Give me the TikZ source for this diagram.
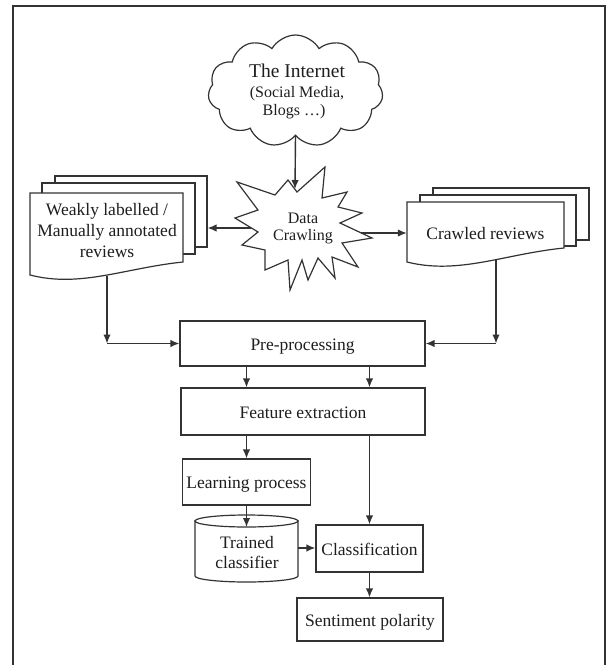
\documentclass[tikz,border=0pt]{standalone}
\usepackage{fontspec}
\setmainfont{Liberation Serif}
\usetikzlibrary{shapes.symbols,arrows.meta,calc}
\definecolor{ln}{HTML}{333333}
\definecolor{tx}{HTML}{1E1E1E}
\tikzset{
  base/.style={font=\fontsize{17.5}{21}\selectfont, text=tx, inner sep=0pt},
  box/.style={base, draw=ln, line width=1.2pt, fill=white, align=center,
              text height=17pt, text depth=4pt},
  arr/.style={draw=ln, line width=1.4pt, -{Latex[length=9pt,width=7.5pt]}},
  shapeline/.style={draw=ln, line width=1.2pt, fill=white},
  sheet/.style={shapeline, rectangle, inner sep=0pt},
}
\newcommand{\docshape}[5]{%
  \path[shapeline] (#1,#2) -- (#3,#2) -- (#3,#4)
    .. controls ({#1+0.62*(#3-#1)},{#4+6}) and ({#1+0.33*(#3-#1)},{#5+13}) .. (#1,#5) -- cycle;}
\begin{document}
\begin{tikzpicture}[x=1pt,y=-1pt]
\useasboundingbox (0,0) rectangle (607,665);
% frame
\draw[draw=ln, line width=2pt] (13,665) -- (13,6) -- (605,6) -- (605,665);

% cloud
\node[cloud, cloud puffs=11, cloud puff arc=120, aspect=1.6, shapeline,
      minimum width=175pt, minimum height=112pt, inner sep=0pt] (net) at (295.5,91) {};
\node[base, font=\fontsize{19.5}{22}\selectfont, anchor=base] (net1) at (297,77) {The Internet};
\node[base, font=\fontsize{16}{19}\selectfont, anchor=base] (net2) at (297,97) {(Social Media,};
\node[base, font=\fontsize{16}{19}\selectfont, anchor=base] (net3) at (294,115) {Blogs …)};

% star
\path[shapeline] (237,182) -- (275,195) -- (288,180) -- (297,192) -- (325,167) -- (322,198)
  -- (347,192) -- (338,207) -- (362,213) -- (340,223) -- (372,238) -- (342,243)
  -- (358,267) -- (332,257) -- (335,278) -- (318,258) -- (308,280) -- (302,260)
  -- (290,290) -- (288,260) -- (265,270) -- (265,250) -- (242,245) -- (258,232)
  -- (235,218) -- (258,210) -- cycle;
\node[base, font=\fontsize{16}{17}\selectfont, align=center] (crawl) at (303,228) {Data\\Crawling};
\coordinate (starT) at (295,189);
\coordinate (starL) at (251,228);
\coordinate (starR) at (361,233);

% left document stack
\node[sheet, minimum width=152pt, minimum height=71pt] (wl3) at (131,211.5) {};
\node[sheet, minimum width=153pt, minimum height=71pt] (wl2) at (118.5,218.5) {};
\docshape{30}{193}{183}{262}{275}
\node[base, align=center] (wl) at (107,231) {Weakly labelled /\\Manually annotated\\reviews};
\coordinate (wlbot) at (107,275.5);

% right document stack
\node[sheet, minimum width=156pt, minimum height=52pt] (cr3) at (511,214) {};
\node[sheet, minimum width=156pt, minimum height=51pt] (cr2) at (498,220.5) {};
\docshape{407}{202}{564}{248}{262}
\node[base, text height=17pt, text depth=4pt, minimum width=157pt] (crf) at (485.5,232.5) {Crawled reviews};
\coordinate (crbot) at (496,259);

% boxes
\node[box, minimum width=245pt, minimum height=45pt] (pre) at (302.5,343.5) {Pre-processing};
\node[box, minimum width=244pt, minimum height=47pt] (feat) at (303,411.5) {Feature extraction};
\node[box, minimum width=128pt, minimum height=46pt] (learn) at (246.5,482) {Learning process};
\node[box, minimum width=107pt, minimum height=47pt] (class) at (369.5,548.5) {Classification};
\node[box, minimum width=146pt, minimum height=43pt] (sent) at (370,619.5) {Sentiment polarity};

% cylinder
\path[shapeline] (195,521) -- (195,576) arc[start angle=180, end angle=360, x radius=51.5pt, y radius=6pt] -- (298,521) -- cycle;
\path[shapeline] (246.5,521) ellipse [x radius=51.5pt, y radius=6pt];
\node[base, align=center, font=\fontsize{17.5}{20}\selectfont] (cyl) at (247,552.8) {Trained\\classifier};
\coordinate (cyltop) at (246.5,527);
\coordinate (cylR) at (298,548);

% corners
\coordinate (cL) at (107,343.5);
\coordinate (cR) at (496,343.5);

% connectors
\draw[arr] (net.south) -- (starT);
\draw[arr] (starL) -- (starL -| wl3.east);
\draw[arr] (starR) -- (starR -| crf.west);
\draw[arr] (wlbot) -- (cL);
\draw[arr] (cL) -- (pre.west);
\draw[arr] (crbot) -- (cR);
\draw[arr] (cR) -- (pre.east);
\draw[arr] (pre.south -| learn.north) -- (feat.north -| learn.north);
\draw[arr] (pre.south -| class.north) -- (feat.north -| class.north);
\draw[arr] (feat.south -| learn.north) -- (learn.north);
\draw[arr] (learn.south) -- (cyltop);
\draw[arr] (cylR) -- (cylR -| class.west);
\draw[arr] (feat.south -| class.north) -- (class.north);
\draw[arr] (class.south) -- (class.south |- sent.north);
\end{tikzpicture}
\end{document}
